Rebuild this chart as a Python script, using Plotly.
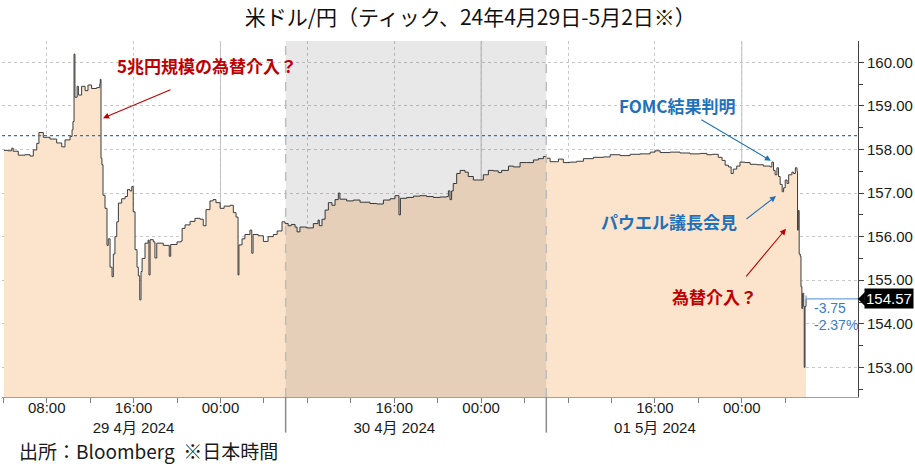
import plotly.graph_objects as go

# ---------------- data (JST tick data) ----------------
times_0429 = ["04:04", "04:26", "04:47", "04:55", "05:23", "06:00", "06:28", "06:46", "07:05", "07:17",
              "07:41", "08:18", "08:55", "09:23", "09:41", "10:09", "10:20", "10:25", "10:31", "10:36",
              "10:48", "10:55", "11:13", "11:32", "11:48", "12:08", "12:36", "12:53", "12:56", "13:00",
              "13:05", "13:11", "13:22", "13:33", "13:40", "13:50", "14:01", "14:08", "14:17", "14:27",
              "14:36", "14:54", "15:13", "15:26", "15:40", "15:50", "15:58", "16:08", "16:19", "16:26",
              "16:34", "16:41", "16:47", "17:03", "17:20", "17:25", "17:31", "17:49", "17:58", "18:08",
              "18:44", "19:17", "19:25", "20:00", "20:22", "20:28", "20:44", "21:12", "21:39", "22:07",
              "22:25", "22:40", "23:02", "23:19", "23:35", "23:58"]
prices_0429 = [157.98, 157.97, 158.03, 157.96, 157.87, 157.88, 157.85, 157.99, 158.14, 158.39,
               158.28, 158.24, 158.15, 158.06, 158.22, 158.30, 158.45, 158.64, 160.19, 159.20,
               159.45, 159.25, 159.45, 159.35, 159.48, 159.40, 159.42, 159.50, 159.61, 157.80,
               157.65, 156.95, 156.65, 155.80, 155.95, 155.30, 155.08, 155.60, 156.00, 156.34,
               156.77, 156.87, 156.92, 157.08, 157.05, 157.15, 156.57, 155.70, 155.30, 155.10,
               154.55, 155.20, 155.50, 155.85, 155.92, 155.12, 155.93, 155.88, 155.51, 155.85,
               155.80, 155.55, 155.82, 155.88, 155.90, 156.19, 156.27, 156.35, 156.42, 156.40,
               156.25, 156.62, 156.82, 156.85, 156.78, 156.65]

times_0430 = ["00:20", "00:53", "01:11", "01:26", "01:37", "01:42", "01:59", "02:15", "02:43", "02:53",
              "03:00", "03:28", "03:57", "04:23", "04:52", "05:13", "05:40", "05:57", "06:14", "06:31",
              "06:52", "07:03", "07:19", "07:56", "08:33", "08:59", "09:06", "09:21", "09:38", "09:56",
              "10:16", "10:33", "10:51", "11:00", "11:37", "12:14", "12:51", "13:46", "14:23", "15:00",
              "15:37", "16:04", "16:26", "16:34", "17:09", "17:46", "18:22", "18:59", "19:36", "20:13",
              "20:50", "20:59", "21:08", "21:17", "21:26", "21:45", "22:04", "22:31", "22:49", "23:17",
              "23:44"]
prices_0430 = [156.70, 156.72, 156.55, 156.45, 155.12, 155.81, 155.95, 156.05, 156.15, 155.62,
               156.05, 156.02, 155.89, 156.00, 156.05, 156.13, 156.34, 156.30, 156.25, 156.28,
               156.22, 156.11, 156.22, 156.20, 156.30, 156.38, 156.25, 156.40, 156.61, 156.78,
               156.72, 156.85, 157.00, 156.86, 156.82, 156.84, 156.79, 156.76, 156.75, 156.84,
               156.87, 156.94, 156.50, 156.88, 156.90, 156.93, 156.94, 156.92, 156.90, 156.91,
               156.92, 157.05, 156.85, 157.05, 157.22, 157.45, 157.52, 157.48, 157.38, 157.30,
               157.30]

times_0501 = ["00:12", "00:40", "01:07", "01:35", "01:53", "02:31", "02:58", "03:35", "04:12", "04:49",
              "05:16", "05:44", "05:59", "06:21", "06:58", "07:07", "07:34", "08:11", "08:48", "09:25",
              "10:20", "11:16", "11:53", "12:48", "13:43", "14:38", "15:34", "16:01", "16:29", "17:24",
              "18:19", "19:14", "20:10", "20:47", "21:16", "21:50", "22:11", "22:28", "22:46", "23:01",
              "23:13", "23:32", "23:50"]
prices_0501 = [157.42, 157.52, 157.51, 157.47, 157.52, 157.62, 157.60, 157.70, 157.70, 157.76,
               157.79, 157.84, 157.80, 157.72, 157.72, 157.78, 157.70, 157.71, 157.73, 157.79,
               157.82, 157.83, 157.88, 157.86, 157.89, 157.90, 157.94, 157.97, 157.93, 157.94,
               157.92, 157.90, 157.91, 157.88, 157.89, 157.82, 157.75, 157.64, 157.60, 157.45,
               157.55, 157.62, 157.71]

times_0502 = ["00:18", "00:46", "01:23", "01:59", "02:37", "02:46", "02:55", "03:04", "03:14", "03:23",
              "03:32", "03:43", "03:51", "04:00", "04:10", "04:19", "04:37", "04:46", "04:56", "05:05",
              "05:08", "05:12", "05:17", "05:23", "05:27", "05:32", "05:36", "05:42", "05:45", "05:49",
              "05:55"]
prices_0502 = [157.70, 157.66, 157.65, 157.62, 157.60, 157.71, 157.52, 157.42, 157.58, 157.38,
               157.20, 157.03, 157.12, 157.30, 157.22, 157.42, 157.48, 157.45, 157.58, 157.50,
               156.15, 156.60, 155.60, 155.55, 154.85, 154.35, 154.70, 154.40, 153.00, 154.40,
               154.57]

LAST = 154.57
CHANGE = -3.75
PCT = -2.37
PREV_CLOSE = round(LAST - CHANGE, 2)

x_major = ["2024-04-29 08:00", "2024-04-29 16:00", "2024-04-30 00:00", "2024-04-30 08:00",
           "2024-04-30 16:00", "2024-05-01 00:00", "2024-05-01 08:00", "2024-05-01 16:00",
           "2024-05-02 00:00"]
x_labels = ["08:00", "16:00<br>29 4月 2024", "00:00", "", "16:00<br>30 4月 2024", "00:00", "",
            "16:00<br>01 5月 2024", "00:00"]
x_minor = ["2024-04-29 04:00", "2024-04-29 12:00", "2024-04-29 20:00", "2024-04-30 04:00",
           "2024-04-30 12:00", "2024-04-30 20:00", "2024-05-01 04:00", "2024-05-01 12:00",
           "2024-05-01 20:00", "2024-05-02 04:00"]
midnights = ["2024-04-30 00:00", "2024-05-01 00:00", "2024-05-02 00:00"]
session_bounds = ["2024-04-30 06:00", "2024-05-01 06:00"]
X_RANGE = ["2024-04-29 03:53", "2024-05-02 10:42"]
Y_RANGE = [152.32, 160.49]

times = ([f"2024-04-29 {t}" for t in times_0429] + [f"2024-04-30 {t}" for t in times_0430] +
         [f"2024-05-01 {t}" for t in times_0501] + [f"2024-05-02 {t}" for t in times_0502])
prices = prices_0429 + prices_0430 + prices_0501 + prices_0502
last_time = times[-1]

LAT = "Liberation Sans, Noto Sans CJK JP, sans-serif"
JP = "Noto Sans CJK JP, sans-serif"
RED = "#C00000"
BLUE = "#1F72BA"

fig = go.Figure()
fig.add_trace(go.Scatter(
    x=times, y=prices, mode="lines", line=dict(color="#3C3C3C", width=1, shape="hv"),
    fill="tozeroy", fillcolor="#FCE4CC", showlegend=False, hoverinfo="x+y"))

shapes = []
# shaded session
shapes.append(dict(type="rect", xref="x", yref="paper", x0=session_bounds[0], x1=session_bounds[1],
                   y0=0, y1=1, fillcolor="rgba(0,0,0,0.09)", line=dict(width=0), layer="above"))
for b in session_bounds:
    shapes.append(dict(type="line", xref="x", yref="paper", x0=b, x1=b, y0=0, y1=1,
                       line=dict(color="#BDBDBD", width=1.5, dash="dash"), layer="above"))
    shapes.append(dict(type="line", xref="x", yref="paper", x0=b, x1=b, y0=-0.1, y1=0,
                       line=dict(color="#8C8C8C", width=1.5)))
for m in midnights:
    shapes.append(dict(type="line", xref="x", yref="paper", x0=m, x1=m, y0=0, y1=1,
                       line=dict(color="#BEBEBE", width=1), layer="below"))
# previous close
shapes.append(dict(type="line", xref="paper", yref="y", x0=0, x1=1, y0=PREV_CLOSE, y1=PREV_CLOSE,
                   line=dict(color="#2E75B6", width=1.2, dash="dot"), layer="above"))
# last price line
shapes.append(dict(type="line", xref="x", yref="y", x0=last_time, x1=X_RANGE[1], y0=LAST, y1=LAST,
                   line=dict(color="#6FA3D8", width=1.2)))
shapes.append(dict(type="line", xref="x", yref="y", x0=last_time, x1=last_time,
                   y0=LAST - 0.08, y1=LAST + 0.08, line=dict(color="#6FA3D8", width=1.2)))
# pointer of the last price tag
shapes.append(dict(type="path", xref="paper", yref="y",
                   path=f"M 1.0,{LAST} L 1.008,{LAST + 0.16} L 1.008,{LAST - 0.16} Z",
                   fillcolor="black", line=dict(width=0)))

annotations = []
annotations.append(dict(x=1, xref="paper", y=LAST, yref="y", text=f"{LAST:.2f}", showarrow=False,
                        xanchor="left", xshift=6, bgcolor="black", borderpad=1,
                        font=dict(family=LAT, size=15, color="white")))
annotations.append(dict(x="2024-05-02 06:28", y=LAST - 0.21, text=f"{CHANGE:.2f}", showarrow=False,
                        xanchor="left", font=dict(family=LAT, size=14, color="#3C7CC8")))
annotations.append(dict(x="2024-05-02 06:28", y=LAST - 0.60, text=f"{PCT:.2f}%", showarrow=False,
                        xanchor="left", font=dict(family=LAT, size=14, color="#3C7CC8")))

# event labels
annotations.append(dict(x="2024-04-29 22:46", y=159.92, text="5兆円規模の為替介入？", showarrow=False,
                        font=dict(family=JP, size=17, color=RED, weight="bold")))
annotations.append(dict(x="2024-05-01 18:02", y=159.0, text="FOMC結果判明", showarrow=False,
                        font=dict(family=JP, size=17, color=BLUE, weight="bold")))
annotations.append(dict(x="2024-05-01 17:19", y=156.34, text="パウエル議長会見", showarrow=False,
                        font=dict(family=JP, size=17, color=BLUE, weight="bold")))
annotations.append(dict(x="2024-05-01 21:27", y=154.62, text="為替介入？", showarrow=False,
                        font=dict(family=JP, size=17, color=RED, weight="bold")))
# arrows
for (hx, hy, ax, ay, col) in [("2024-04-29 13:11", 158.72, 69, -29, RED),
                              ("2024-05-02 02:41", 157.74, -71, -42, BLUE),
                              ("2024-05-02 03:09", 156.93, -31, 24, BLUE),
                              ("2024-05-02 04:04", 156.18, -41, 49, RED)]:
    annotations.append(dict(x=hx, y=hy, ax=ax, ay=ay, text="", showarrow=True, arrowhead=2,
                            arrowsize=1.1, arrowwidth=1.1, arrowcolor=col))

annotations.append(dict(x=0.0175, xref="paper", y=-0.149, yref="paper", text="出所：Bloomberg  ※日本時間",
                        showarrow=False, xanchor="left", yanchor="middle",
                        font=dict(family=JP, size=19, color="#1A1A1A")))

fig.update_layout(
    width=915, height=475,
    margin=dict(l=2, r=57, t=41, b=78),
    paper_bgcolor="white", plot_bgcolor="white",
    title=dict(text="米ドル/円（ティック、24年4月29日-5月2日※）", x=0.514, xref="container",
               xanchor="center", y=0.962, yanchor="middle",
               font=dict(family=JP, size=21, color="#111111")),
    shapes=shapes, annotations=annotations, showlegend=False,
    xaxis=dict(type="date", range=X_RANGE, tickmode="array", tickvals=x_major, ticktext=x_labels,
               showgrid=True, gridcolor="#C8C8C8", griddash="dot", gridwidth=1,
               ticks="outside", ticklen=5, tickcolor="#808080", ticklabelstandoff=-8,
               minor=dict(tickmode="array", tickvals=x_minor, ticks="outside", ticklen=5,
                          tickcolor="#808080", showgrid=False),
               showline=True, linecolor="#A0A0A0", linewidth=1, zeroline=False,
               tickfont=dict(family=LAT, size=15, color="#1A1A1A")),
    yaxis=dict(side="right", range=Y_RANGE, dtick=1, tick0=150, tickformat=".2f",
               showgrid=True, gridcolor="#C8C8C8", griddash="dot", gridwidth=1,
               ticks="outside", ticklen=5, tickcolor="#404040",
               minor=dict(dtick=0.5, ticks="outside", ticklen=4, tickcolor="#404040", showgrid=False),
               showline=True, linecolor="#404040", linewidth=1, zeroline=False,
               tickfont=dict(family=LAT, size=15, color="#1A1A1A")),
)

fig.write_html("out.html", config={"displayModeBar": False},
               post_script="document.body.style.margin='0px';")
